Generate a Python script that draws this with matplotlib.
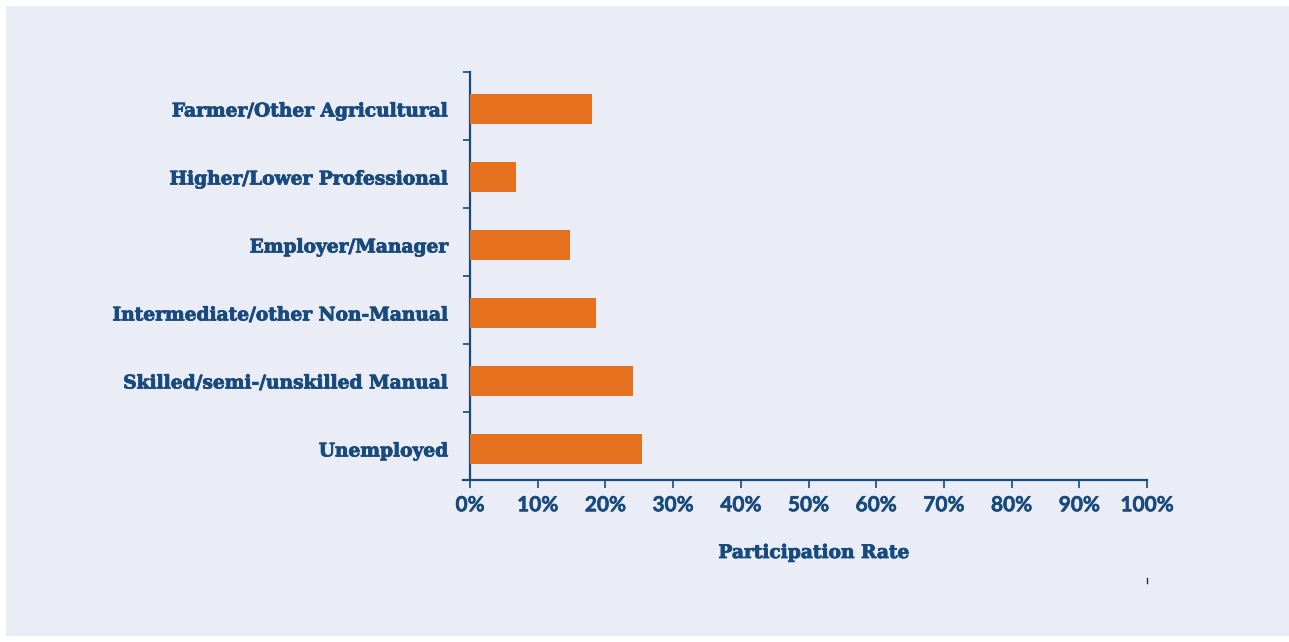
import matplotlib
matplotlib.use("Agg")
import matplotlib.pyplot as plt
from matplotlib.patches import Rectangle
from matplotlib.lines import Line2D
import matplotlib.patheffects as pe
import numpy as np

categories = ["Farmer/Other Agricultural", "Higher/Lower Professional", "Employer/Manager",
              "Intermediate/other Non-Manual", "Skilled/semi-/unskilled Manual", "Unemployed"]
values = [18.0, 6.8, 14.8, 18.6, 24.1, 25.4]
xticks = list(range(0, 101, 10))
xticklabels = [f"{t}%" for t in xticks]

NAVY = "#184a7e"
ORANGE = "#e5711f"
PANEL = "#eaedf5"

fig = plt.figure(figsize=(12.89, 6.42), dpi=100)
fig.patch.set_facecolor("white")
fig.add_artist(Rectangle((6/1289, 1-636/642), (1289-6)/1289, (636-6)/642,
                         transform=fig.transFigure, facecolor=PANEL, edgecolor="none", zorder=0))

ax = fig.add_axes([470/1289, 1-480/642, (1147-470)/1289, (480-72)/642])
ax.set_facecolor("none")
y = np.arange(len(categories))
ax.barh(y, values, height=0.44, color=ORANGE, zorder=3)
off = 0.05
ax.set_ylim(len(categories)-0.5-off, -0.5-off)
ax.set_xlim(0, 100)

for s in ["top", "right"]:
    ax.spines[s].set_visible(False)
for s in ["left", "bottom"]:
    ax.spines[s].set_color(NAVY)
    ax.spines[s].set_linewidth(1.6)
ax.spines["bottom"].set_bounds(-1, 100)

thick = [pe.withStroke(linewidth=0.6, foreground=NAVY)]

ax.set_yticks(y)
ax.set_yticklabels(categories, fontfamily="DejaVu Serif", fontweight="bold", fontsize=13.4, color=NAVY)
for t in ax.get_yticklabels():
    t.set_path_effects(thick)
ax.tick_params(axis="y", which="major", length=0, pad=15.5)
ax.set_yticks(np.arange(-0.5-off, len(categories)), minor=True)
ax.tick_params(axis="y", which="minor", length=5, width=1.2, color=NAVY, direction="out")

ax.set_xticks(xticks)
ax.set_xticklabels(xticklabels, fontfamily="Lato", fontweight="bold", fontsize=15, color=NAVY)
for t in ax.get_xticklabels():
    t.set_path_effects([pe.withStroke(linewidth=0.4, foreground=NAVY)])
ax.tick_params(axis="x", length=6, width=1.2, color=NAVY, direction="out", pad=5)

ax.set_xlabel("Participation Rate", fontfamily="DejaVu Serif", fontweight="bold", fontsize=13.4,
              color=NAVY, path_effects=thick)
ax.xaxis.set_label_coords((814-470)/677, -(553-480)/408, transform=ax.transAxes)
ax.xaxis.label.set_va("center")

fig.add_artist(Line2D([1147/1289, 1147/1289], [1-578/642, 1-583/642], transform=fig.transFigure,
                      color="#333333", linewidth=1))

fig.savefig("out.png", dpi=100)
